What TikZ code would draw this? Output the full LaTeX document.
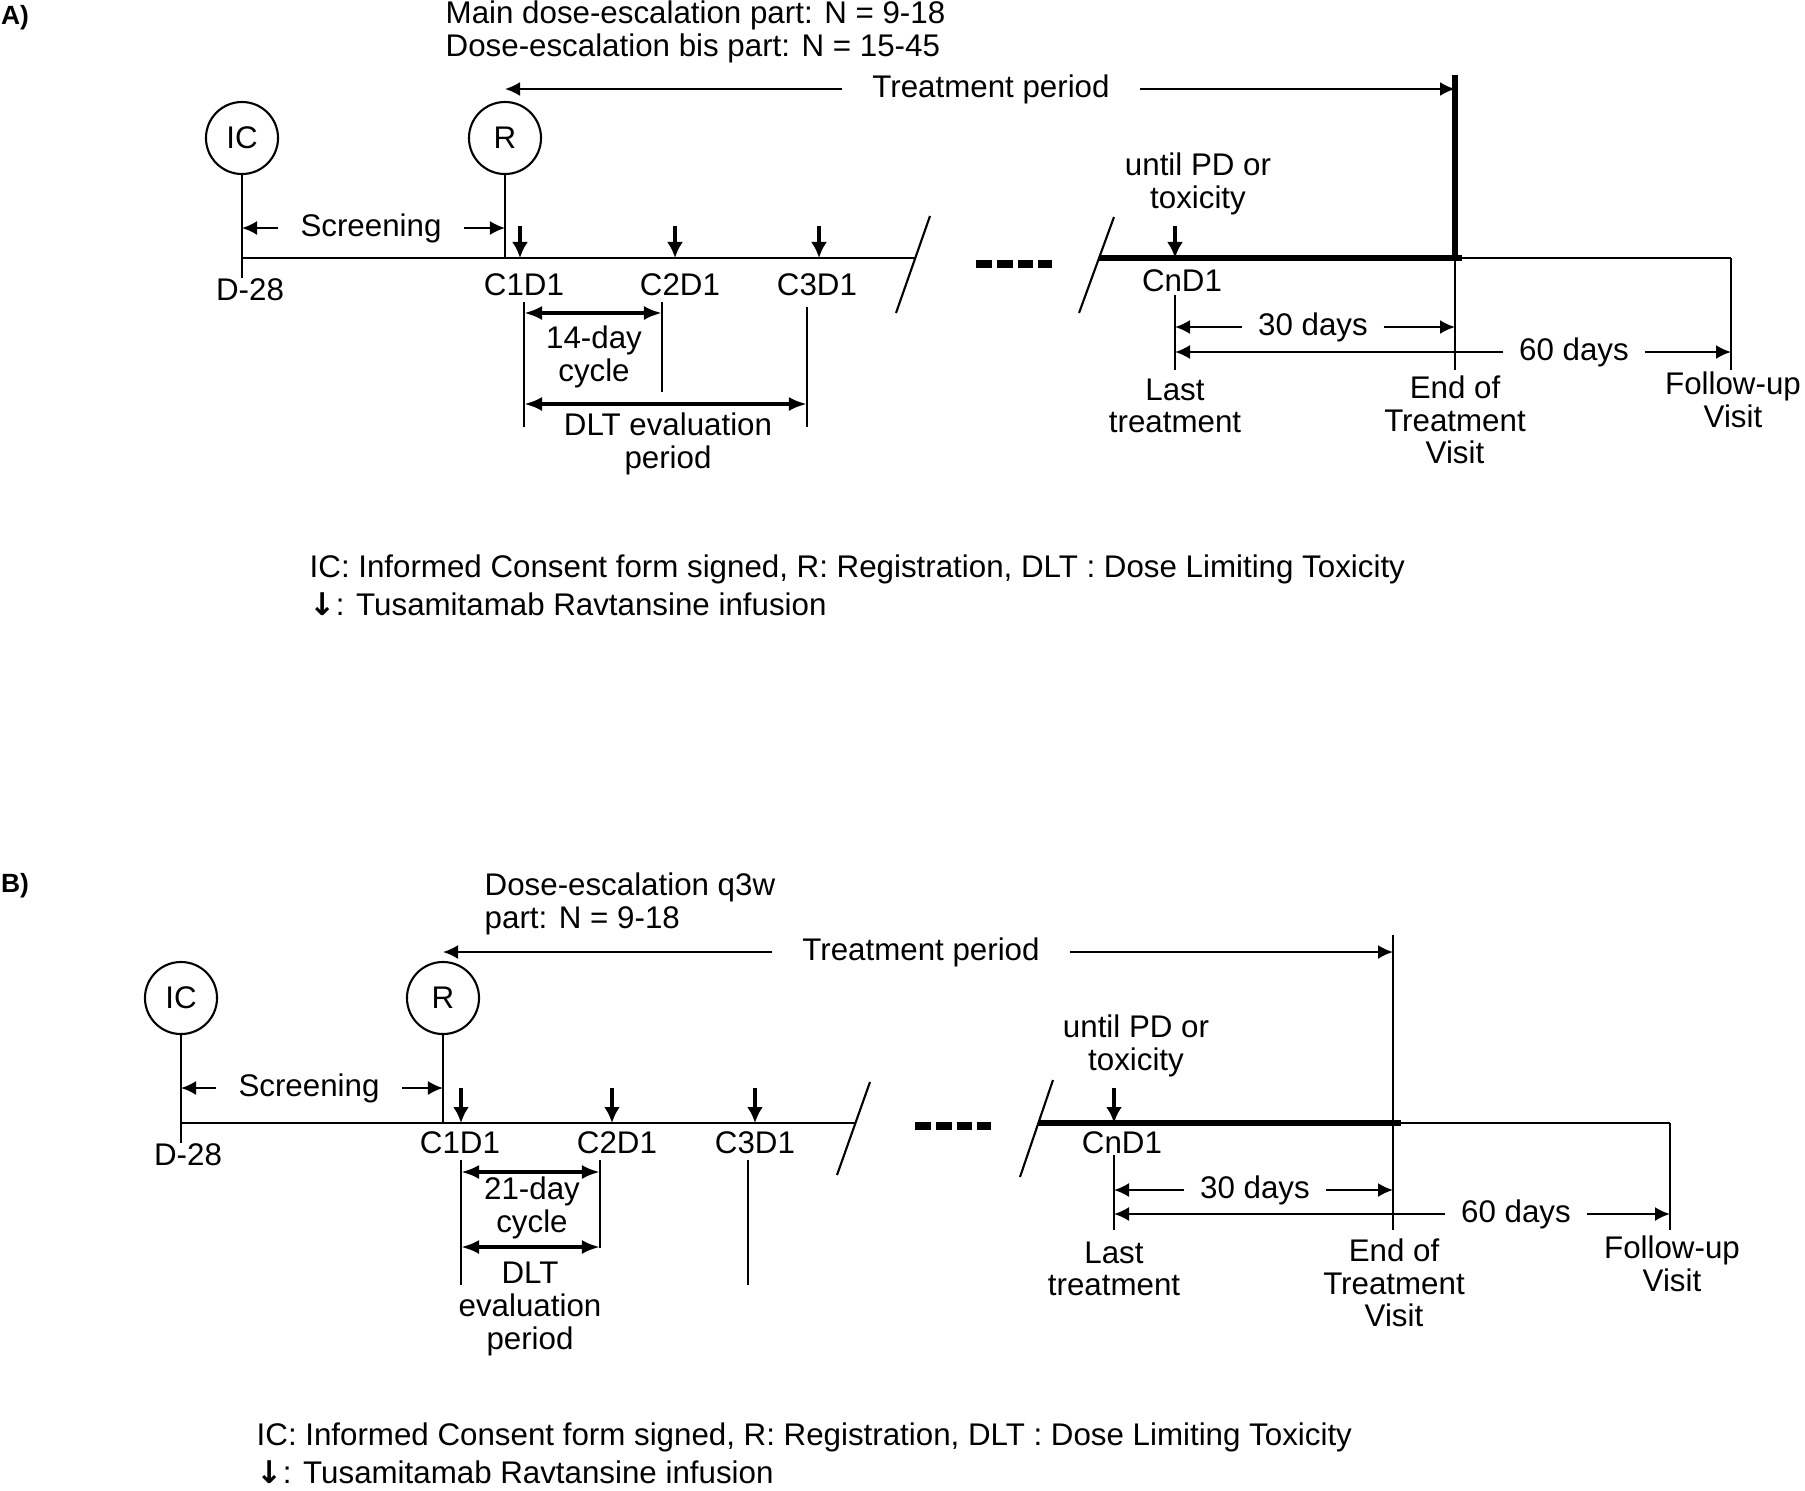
\documentclass[tikz,border=0pt]{standalone}
\usepackage{fontspec}
\setmainfont{Liberation Sans}
\newfontfamily\symfont{DejaVu Sans}
\usepackage{tikz}
\usetikzlibrary{arrows.meta}
\tikzset{
  lab/.style = {align=center, inner sep=0pt, text centered,
    font=\fontsize{8.9}{9.3}\selectfont},
  gap/.style = {inner xsep=#1},
  tag/.style = {lab, font=\bfseries\fontsize{7.5}{8}\selectfont},
  ev/.style = {lab, circle, draw=black, minimum size=0.72cm, line width=0.6pt},
  ln/.style = {line width=0.6pt},
  heavy/.style = {line width=1.5pt},
  inf/.style = {line width=0.9pt, -{Latex[length=1.6mm,width=1.6mm]}},
  per/.style = {ln, -{Latex[length=1.5mm,width=1.4mm]}},
  cyc/.style = {line width=1.1pt, {Latex[length=1.8mm,width=1.4mm]}-{Latex[length=1.8mm,width=1.4mm]}},
  brk/.style = {line width=2pt, dash pattern=on 4.5pt off 1.4pt}
}
\begin{document}
\begin{tikzpicture}[x=0.01cm, y=-0.01cm]
\useasboundingbox (0,0) rectangle (1805,1490);

% A)
\node[tag] (tagA) at (15,18) {A)};
\node[lab, align=left, anchor=west] (nA) at (445,32) {Main dose-escalation part: N = 9-18\\Dose-escalation bis part: N = 15-45};
\node[ev] (icA) at (242,138) {IC};
\node[ev] (rA) at (505,138) {R};
\coordinate (t0A) at (242,258);
\coordinate (s1A) at (915,258);
\coordinate (s2A) at (1099,258);
\coordinate (t1A) at (1462,258);
\coordinate (fuA) at (1731,258);
\coordinate (eotA) at (1455,75);
\coordinate (eotAb) at (1455,370);
\draw[ln] (t0A) -- (s1A);
\draw[heavy] (s2A) -- (t1A);
\draw[ln] (t1A) -- (fuA);
\draw[ln] (930,216) -- (896,313);
\draw[ln] (1114,217) -- (1079,313);
\draw[brk] (976,264) -- (1052,264);
\draw[heavy] (eotA) -- (eotA |- t0A);
\draw[ln] (eotA |- t0A) -- (eotAb);
\draw[ln] (fuA) -- (fuA |- eotAb);

\node[lab, gap=0.3cm] (tpA) at (991,89) {Treatment period};
\draw[per] (tpA.west) -- (rA |- tpA);
\draw[per] (tpA.east) -- (eotA |- tpA);

\node[lab] (d28A) at (250,290) {D-28};
\draw[ln] (icA) -- (icA |- d28A.north);
\draw[ln] (rA) -- (rA |- t0A);
\node[lab, gap=0.22cm] (scrA) at (371,228) {Screening};
\draw[per] (scrA.west) -- (icA |- scrA);
\draw[per] (scrA.east) -- (rA |- scrA);

\foreach \n/\x in {1/520, 2/675, 3/819, n/1175} {
  \coordinate (iA\n) at (\x,226);
  \draw[inf] (iA\n) -- (iA\n |- t0A);
}
\node[lab] (c1A) at (524,285) {C1D1};
\node[lab] (c2A) at (680,285) {C2D1};
\node[lab] (c3A) at (817,285) {C3D1};
\node[lab] (cnA) at (1182,281) {CnD1};
\node[lab] (untA) at (1198,184) {until PD or\\toxicity};

\coordinate (k1A) at (524,302);
\coordinate (k2A) at (662,302);
\coordinate (k3A) at (807,307);
\draw[ln] (k1A) -- ++(0,125);
\draw[ln] (k2A) -- ++(0,90);
\draw[ln] (k3A) -- ++(0,120);
\node[lab] (cycA) at (594,357) {14-day\\cycle};
\node[lab] (dltA) at (668,444) {DLT evaluation\\period};
\coordinate (yA1) at (0,313);
\coordinate (yA2) at (0,404);
\draw[cyc] (k1A |- yA1) -- (k2A |- yA1);
\draw[cyc] (k1A |- yA2) -- (k3A |- yA2);

\coordinate (ltA) at (1175,295);
\draw[ln] (ltA) -- (ltA |- eotAb);
\node[lab, gap=0.15cm] (d30A) at (1313,327) {30 days};
\draw[per] (d30A.west) -- (ltA |- d30A);
\draw[per] (d30A.east) -- (eotA |- d30A);
\node[lab, gap=0.15cm] (d60A) at (1574,352) {60 days};
\draw[per] (d60A.west) -- (ltA |- d60A);
\draw[per] (d60A.east) -- (fuA |- d60A);
\node[lab] (lastA) at (1175,406) {Last\\treatment};
\node[lab] (endA) at (1455,420) {End of\\Treatment\\Visit};
\node[lab] (fuvA) at (1733,400) {Follow-up\\Visit};

\node[lab, align=left, anchor=west] (legA) at (309,585) {IC: Informed Consent form signed, R: Registration, DLT : Dose Limiting Toxicity\\[1.5pt]{\symfont\bfseries ↓}: Tusamitamab Ravtansine infusion};

% B)
\node[tag] (tagB) at (15,886) {B)};
\node[lab, align=left, anchor=west] (nB) at (484,904) {Dose-escalation q3w\\part: N = 9-18};
\node[ev] (icB) at (181,998) {IC};
\node[ev] (rB) at (443,998) {R};
\coordinate (t0B) at (181,1123);
\coordinate (s1B) at (855,1123);
\coordinate (s2B) at (1038,1123);
\coordinate (t1B) at (1401,1123);
\coordinate (fuB) at (1670,1123);
\coordinate (eotB) at (1393,935);
\coordinate (eotBb) at (1393,1230);
\draw[ln] (t0B) -- (s1B);
\draw[heavy] (s2B) -- (t1B);
\draw[ln] (t1B) -- (fuB);
\draw[ln] (870,1082) -- (837,1175);
\draw[ln] (1053,1080) -- (1020,1177);
\draw[brk] (915,1126) -- (991,1126);
\draw[ln] (eotB) -- (eotBb);
\draw[ln] (fuB) -- (fuB |- eotBb);

\node[lab, gap=0.3cm] (tpB) at (921,952) {Treatment period};
\draw[per] (tpB.west) -- (rB |- tpB);
\draw[per] (tpB.east) -- (eotB |- tpB);

\node[lab] (d28B) at (188,1155) {D-28};
\draw[ln] (icB) -- (icB |- d28B.north);
\draw[ln] (rB) -- (rB |- t0B);
\node[lab, gap=0.22cm] (scrB) at (309,1088) {Screening};
\draw[per] (scrB.west) -- (icB |- scrB);
\draw[per] (scrB.east) -- (rB |- scrB);

\foreach \n/\x in {1/461, 2/612, 3/755, n/1114} {
  \coordinate (iB\n) at (\x,1088);
  \draw[inf] (iB\n) -- (iB\n |- t0B);
}
\node[lab] (c1B) at (460,1143) {C1D1};
\node[lab] (c2B) at (617,1143) {C2D1};
\node[lab] (c3B) at (755,1143) {C3D1};
\node[lab] (cnB) at (1122,1143) {CnD1};
\node[lab] (untB) at (1136,1046) {until PD or\\toxicity};

\coordinate (k1B) at (461,1160);
\coordinate (k2B) at (600,1160);
\coordinate (k3B) at (748,1160);
\draw[ln] (k1B) -- ++(0,125);
\draw[ln] (k2B) -- ++(0,88);
\draw[ln] (k3B) -- ++(0,125);
\node[lab] (cycB) at (532,1208) {21-day\\cycle};
\node[lab] (dltB) at (530,1309) {DLT\\evaluation\\period};
\coordinate (yB1) at (0,1172);
\coordinate (yB2) at (0,1247);
\draw[cyc] (k1B |- yB1) -- (k2B |- yB1);
\draw[cyc] (k1B |- yB2) -- (k2B |- yB2);

\coordinate (ltB) at (1114,1155);
\draw[ln] (ltB) -- (ltB |- eotBb);
\node[lab, gap=0.15cm] (d30B) at (1255,1190) {30 days};
\draw[per] (d30B.west) -- (ltB |- d30B);
\draw[per] (d30B.east) -- (eotB |- d30B);
\node[lab, gap=0.15cm] (d60B) at (1516,1214) {60 days};
\draw[per] (d60B.west) -- (ltB |- d60B);
\draw[per] (d60B.east) -- (fuB |- d60B);
\node[lab] (lastB) at (1114,1269) {Last\\treatment};
\node[lab] (endB) at (1394,1283) {End of\\Treatment\\Visit};
\node[lab] (fuvB) at (1672,1264) {Follow-up\\Visit};

\node[lab, align=left, anchor=west] (legB) at (256,1453) {IC: Informed Consent form signed, R: Registration, DLT : Dose Limiting Toxicity\\[1.5pt]{\symfont\bfseries ↓}: Tusamitamab Ravtansine infusion};
\end{tikzpicture}
\end{document}
